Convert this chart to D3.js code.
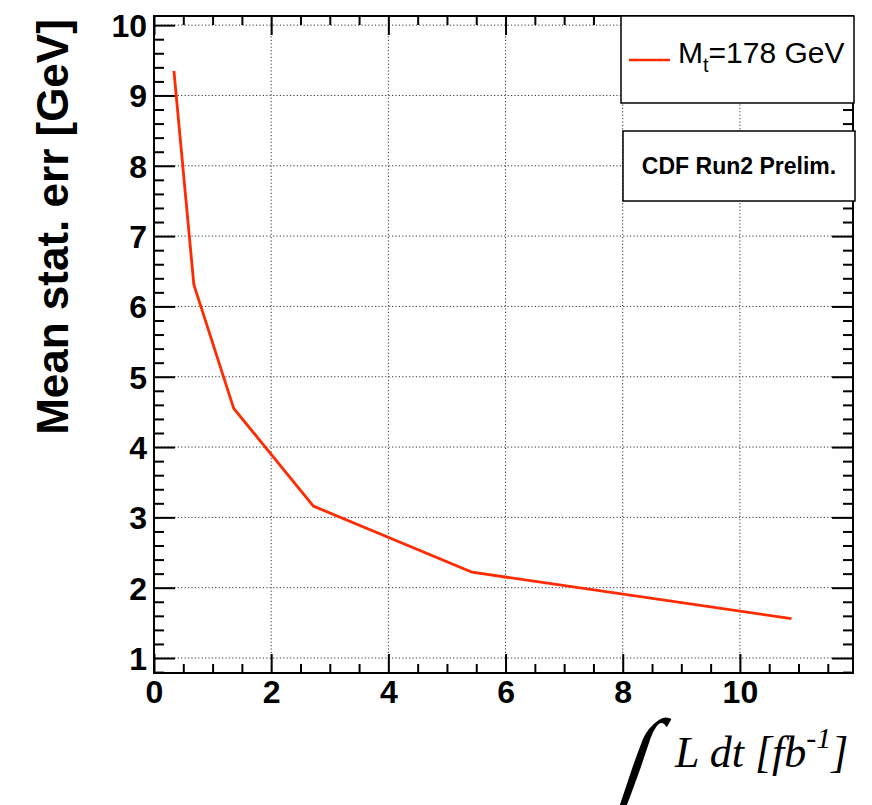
<!DOCTYPE html>
<html>
<head>
<meta charset="utf-8">
<script src="https://cdn.jsdelivr.net/npm/d3@7"></script>
<style>
  html, body { margin: 0; padding: 0; background: #fff; }
  #chart-container { width: 872px; height: 805px; overflow: hidden; }
</style>
</head>
<body>
<div id="chart-container"></div>
<script>
// =====================
// Data
// =====================
const LUMI = [0.34, 0.68, 1.36, 2.72, 5.43, 10.88];      // fb^-1
const STAT_ERR = [9.35, 6.31, 4.55, 3.16, 2.22, 1.56];   // GeV

const X_TICKS = [0, 2, 4, 6, 8, 10];
const Y_TICKS = [1, 2, 3, 4, 5, 6, 7, 8, 9, 10];

const LEGEND_LABEL = ["M", "t", "=178 GeV"];
const BOX_LABEL = "CDF Run2 Prelim.";
const Y_LABEL = "Mean stat. err [GeV]";

// =====================
// SVG setup
// =====================
const svgWidth = 872;
const svgHeight = 805;
const margin = { top: 16, right: 19, bottom: 132, left: 154 };
const width = svgWidth - margin.left - margin.right;
const height = svgHeight - margin.top - margin.bottom;

const SANS = "'Liberation Sans', Arial, Helvetica, sans-serif";
const SERIF = "'Liberation Serif', 'Times New Roman', serif";
const RED = "#ff2a00";

const svg = d3.select("#chart-container").append("svg")
  .attr("width", svgWidth)
  .attr("height", svgHeight);

const chart = svg.append("g")
  .attr("transform", `translate(${margin.left},${margin.top})`);

const x = d3.scaleLinear().domain([0, 11.93]).range([0, width]);
const y = d3.scaleLinear().domain([0.787, 10.13]).range([height, 0]);

// minor tick positions
const xMinor = d3.range(0, 24).map(i => i * 0.5).filter(v => v <= 11.93 && v % 2 !== 0);
const yMinor = d3.range(4, 51).map(i => +(i * 0.2).toFixed(1))
  .filter(v => v >= 0.787 && v <= 10.13 && !Number.isInteger(v));

// Grid (dotted)
const grid = chart.append("g")
  .attr("stroke", "#333")
  .attr("stroke-width", 1)
  .attr("stroke-dasharray", "1.2,2.2");

grid.selectAll("line.gx")
  .data(X_TICKS.filter(v => v > 0))
  .join("line")
  .attr("x1", d => x(d)).attr("x2", d => x(d))
  .attr("y1", 0).attr("y2", height);

grid.selectAll("line.gy")
  .data(Y_TICKS)
  .join("line")
  .attr("class", "gy")
  .attr("x1", 0).attr("x2", width)
  .attr("y1", d => y(d)).attr("y2", d => y(d));

// Axes: major + minor ticks on all four sides
function styleAxis(g) {
  g.select(".domain").remove();
  g.selectAll(".tick line").attr("stroke", "#000").attr("stroke-width", 2);
  g.selectAll(".tick text")
    .attr("font-family", SANS)
    .attr("font-weight", 700)
    .attr("font-size", 32)
    .attr("fill", "#000");
}

chart.append("g")
  .attr("transform", `translate(0,${height})`)
  .call(d3.axisBottom(x).tickValues(X_TICKS).tickSize(-19).tickPadding(7).tickFormat(d3.format("d")))
  .call(styleAxis);

chart.append("g")
  .attr("transform", `translate(0,${height})`)
  .call(d3.axisBottom(x).tickValues(xMinor).tickSize(-9).tickFormat(""))
  .call(styleAxis);

chart.append("g")
  .call(d3.axisTop(x).tickValues(X_TICKS).tickSize(-19).tickFormat(""))
  .call(styleAxis);

chart.append("g")
  .call(d3.axisTop(x).tickValues(xMinor).tickSize(-9).tickFormat(""))
  .call(styleAxis);

chart.append("g")
  .call(d3.axisLeft(y).tickValues(Y_TICKS).tickSize(-21).tickPadding(7).tickFormat(d3.format("d")))
  .call(styleAxis)
  .call(g => g.selectAll(".tick text").attr("dy", "0.36em"));

chart.append("g")
  .call(d3.axisLeft(y).tickValues(yMinor).tickSize(-10).tickFormat(""))
  .call(styleAxis);

chart.append("g")
  .attr("transform", `translate(${width},0)`)
  .call(d3.axisRight(y).tickValues(Y_TICKS).tickSize(-21).tickFormat(""))
  .call(styleAxis);

chart.append("g")
  .attr("transform", `translate(${width},0)`)
  .call(d3.axisRight(y).tickValues(yMinor).tickSize(-10).tickFormat(""))
  .call(styleAxis);

// Frame
chart.append("rect")
  .attr("width", width)
  .attr("height", height)
  .attr("fill", "none")
  .attr("stroke", "#000")
  .attr("stroke-width", 2);

// Line
const pts = LUMI.map((v, i) => [v, STAT_ERR[i]]);
chart.append("path")
  .datum(pts)
  .attr("fill", "none")
  .attr("stroke", RED)
  .attr("stroke-width", 2.8)
  .attr("stroke-linejoin", "round")
  .attr("d", d3.line().x(d => x(d[0])).y(d => y(d[1])));

// Legend box
const leg = svg.append("g").attr("transform", "translate(621,16)");
leg.append("rect")
  .attr("width", 233).attr("height", 87)
  .attr("fill", "#fff").attr("stroke", "#000").attr("stroke-width", 1.5);
leg.append("line")
  .attr("x1", 8).attr("x2", 49).attr("y1", 44).attr("y2", 44)
  .attr("stroke", RED).attr("stroke-width", 2.5);
const legText = leg.append("text")
  .attr("x", 57).attr("y", 47)
  .attr("font-family", SANS).attr("font-size", 30).attr("fill", "#000");
legText.append("tspan").text(LEGEND_LABEL[0]);
legText.append("tspan").attr("font-size", 20).attr("dy", 9).text(LEGEND_LABEL[1]);
legText.append("tspan").attr("dy", -9).text(LEGEND_LABEL[2]);

// CDF box
const box = svg.append("g").attr("transform", "translate(623,131)");
box.append("rect")
  .attr("width", 232).attr("height", 70)
  .attr("fill", "#fff").attr("stroke", "#000").attr("stroke-width", 1.5);
box.append("text")
  .attr("x", 116).attr("y", 43)
  .attr("text-anchor", "middle")
  .attr("font-family", SANS).attr("font-weight", 700).attr("font-size", 23)
  .text(BOX_LABEL);

// Y axis title
svg.append("text")
  .attr("transform", "translate(68,227) rotate(-90)")
  .attr("text-anchor", "middle")
  .attr("font-family", SANS).attr("font-weight", 700).attr("font-size", 44)
  .text(Y_LABEL);

// X axis title: integral sign, slanted like the reference
svg.append("text")
  .attr("transform", "translate(614,796) skewX(-19) scale(0.95,1.1)")
  .attr("font-family", SERIF).attr("font-weight", 700).attr("font-size", 100)
  .text("\u222B");

const xt = svg.append("text")
  .attr("x", 675).attr("y", 767)
  .attr("font-family", SERIF).attr("font-style", "italic").attr("font-size", 44)
  .attr("fill", "#000");
xt.append("tspan").text("L dt [fb");
xt.append("tspan").attr("font-size", 30).attr("dy", -19).text("-1");
xt.append("tspan").attr("dy", 19).text("]");
</script>
</body>
</html>
